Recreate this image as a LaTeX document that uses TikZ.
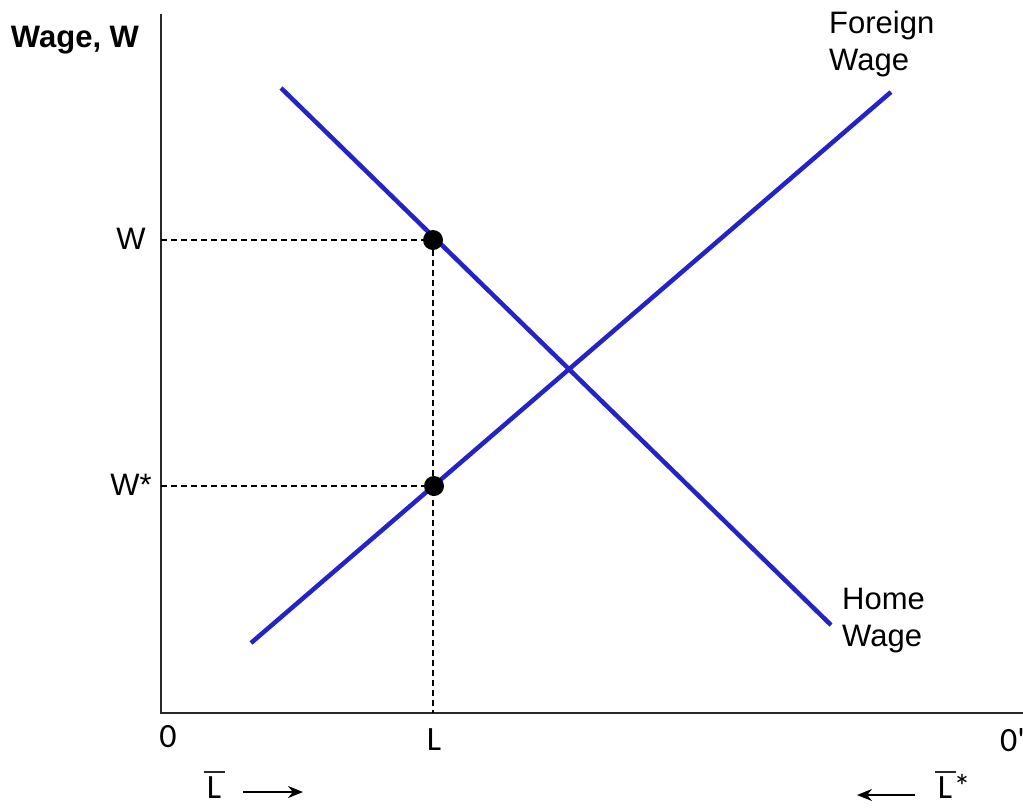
\documentclass[tikz,border=0pt]{standalone}
\usepackage{fontspec}
\setmainfont{Liberation Sans}
\newfontfamily\carlito{Carlito}
\usetikzlibrary{arrows.meta}
\definecolor{curveblue}{RGB}{35,35,200}
\definecolor{axisgray}{RGB}{40,40,40}
\begin{document}
\begin{tikzpicture}[x=1pt,y=-1pt,
 axis/.style={line width=2pt, draw=axisgray},
 curve/.style={line width=4.5pt, draw=curveblue},
 guide/.style={line width=1.3pt, dash pattern=on 6pt off 4pt},
 dot/.style={circle, fill=black, inner sep=0pt, minimum size=20pt},
 lab/.style={font=\fontsize{31}{37}\selectfont, inner sep=0pt},
 blab/.style={font=\bfseries\fontsize{31}{37}\selectfont, inner sep=0pt},
 clab/.style={font=\carlito\fontsize{34}{40}\selectfont, inner sep=0pt},
 overbar/.style={line width=2.2pt, draw=axisgray},
 marker/.style={-{Stealth[length=15pt,width=12pt]}, line width=2pt}]
\useasboundingbox (0,0) rectangle (1023,807);
\coordinate (top) at (161,14);
\coordinate (origin) at (161,713);
\coordinate (right) at (1023,713);
\draw[axis] (top) -- (origin) -- (right);
% curves
\coordinate (h1) at (281,88);
\coordinate (h2) at (831,625);
\coordinate (f1) at (251,643);
\coordinate (f2) at (891,92);
\draw[curve] (h1) -- (h2);
\draw[curve] (f1) -- (f2);
% points
\node[dot] (pW) at (433,240) {};
\node[dot] (pWs) at (434,486) {};
\coordinate (yW) at (161,240);
\coordinate (yWs) at (161,486);
\coordinate (xL) at (433,713);
\draw[guide] (yW) -- (pW.center);
\draw[guide] (yWs) -- (pWs.center);
\draw[guide] (pW.center) -- (xL);
% labels
\node[blab] (ylab) at (75,40) {Wage, W};
\node[lab] (wlab) at (131,239) {W};
\node[lab] (wslab) at (131,485) {W*};
\node[clab] (zero) at (168,737) {0};
\node[clab] (llab) at (434,740) {L};
\node[clab, anchor=west] (zerop) at (1000,740) {0'};
\node[lab, anchor=north west, align=left] (flab) at (829,11) {Foreign\\Wage};
\node[lab, anchor=north west, align=left] (hlab) at (842,588) {Home\\Wage};
\node[clab] (lbar) at (214,788) {L};
\draw[overbar] ([xshift=-3pt,yshift=5pt]lbar.north west) -- ([xshift=4pt,yshift=5pt]lbar.north east);
\node[clab] (lbars) at (945,788) {L};
\node[clab, anchor=base west] (star) at ([xshift=1pt]lbars.base east) {*};
\draw[overbar] ([xshift=-3pt,yshift=5pt]lbars.north west) -- ([xshift=4pt,yshift=5pt]lbars.north east);
\coordinate (a1s) at (243,792);
\coordinate (a1e) at (303,792);
\coordinate (a2s) at (915,795);
\coordinate (a2e) at (857,795);
\draw[marker] (a1s) -- (a1e);
\draw[marker] (a2s) -- (a2e);
\end{tikzpicture}
\end{document}
